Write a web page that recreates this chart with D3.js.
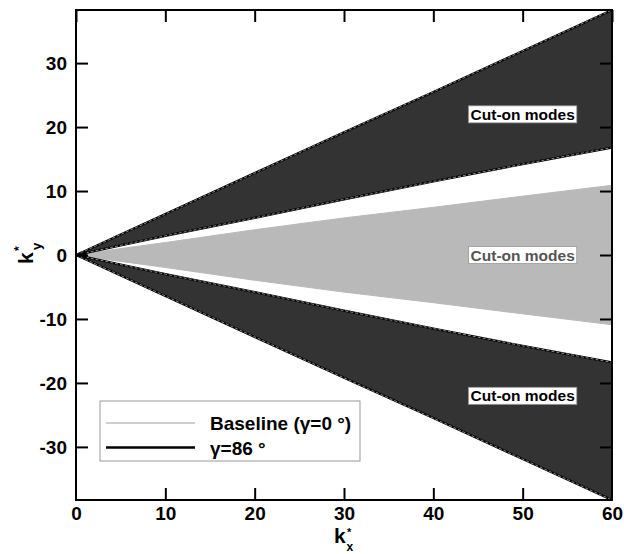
<!DOCTYPE html>
<html>
<head>
<meta charset="utf-8">
<script src="https://cdn.jsdelivr.net/npm/d3@7"></script>
<style>
  html, body { margin: 0; padding: 0; background: #fff; }
  svg { display: block; }
  text { font-family: "Liberation Sans", Arial, Helvetica, sans-serif; font-weight: bold; }
</style>
</head>
<body>
<svg id="chart" width="624" height="554"></svg>
<script>
// ---- data ----
const kx = [0, 1, 5, 10, 20, 30, 40, 50, 60];
const gammaOuter = [0, 0.64, 3.2, 6.4, 12.8, 19.2, 25.5, 31.9, 38.3];   // γ=86° outer boundary (ky>0)
const gammaInner = [0, 0.3, 1.5, 3.0, 5.8, 8.7, 11.5, 14.2, 16.8];      // γ=86° inner boundary (ky>0)
const baseline   = [0, 0.2, 1.0, 1.95, 3.95, 5.8, 7.45, 9.2, 10.9];     // baseline γ=0° boundary (ky>0)
const xTicks = [0, 10, 20, 30, 40, 50, 60];
const yTicks = [-30, -20, -10, 0, 10, 20, 30];
const labelText = "Cut-on modes";
const labelX = [50, 50, 50];
const labelY = [22, 0, -22];
const legendLabels = ["Baseline (\u03b3=0 \u00b0)", "\u03b3=86 \u00b0"];

// ---- layout ----
const svg = d3.select("#chart");
const L = 76, R = 612, T = 10, B = 500;
const x = d3.scaleLinear().domain([0, 60]).range([L, R]);
const y = d3.scaleLinear().domain([-38.3, 38.3]).range([B, T]);

const pts = (arr, sign) => kx.map((k, i) => [k, sign * arr[i]]);
const area = (a, b) => {
  const p = a.concat(b.slice().reverse());
  return d3.line().x(d => x(d[0])).y(d => y(d[1]))(p) + "Z";
};
const line = d3.line().x(d => x(d[0])).y(d => y(d[1]));

svg.append("defs").append("clipPath").attr("id", "clip")
  .append("rect").attr("x", L).attr("y", T).attr("width", R - L).attr("height", B - T);
const g = svg.append("g").attr("clip-path", "url(#clip)");

// baseline (gray) region
g.append("path").attr("d", area(pts(baseline, 1), pts(baseline, -1)))
  .attr("fill", "#b9b9b9").attr("stroke", "#b9b9b9").attr("stroke-width", 1);

// γ=86 regions (dark)
[1, -1].forEach(s => {
  g.append("path").attr("d", area(pts(gammaOuter, s), pts(gammaInner, s)))
    .attr("fill", "#333333");
  [gammaOuter, gammaInner].forEach(arr => {
    g.append("path").attr("d", line(pts(arr, s)))
      .attr("fill", "none").attr("stroke", "#000").attr("stroke-width", 2.2);
    g.append("path").attr("d", line(pts(arr, s)))
      .attr("fill", "none").attr("stroke", "#e8e8e8").attr("stroke-width", 0.6)
      .attr("stroke-dasharray", "3,2");
  });
});
// dark apex where the boundaries meet
g.append("path").attr("d", area([[0, 0], [1.2, 0.5]], [[0, 0], [1.2, -0.5]]))
  .attr("fill", "#000");

// labels
labelX.forEach((lx, i) => {
  const t = svg.append("text").attr("x", x(lx)).attr("y", y(labelY[i]))
    .attr("text-anchor", "middle").attr("dy", "0.36em")
    .attr("font-size", 15.5).attr("fill", i === 1 ? "#555" : "#000").text(labelText);
  const bb = t.node().getBBox();
  svg.insert("rect", () => t.node())
    .attr("x", bb.x - 2).attr("y", bb.y).attr("width", bb.width + 4).attr("height", bb.height)
    .attr("fill", "#fff").attr("stroke", "#999").attr("stroke-width", 0.8);
});

// axes frame
svg.append("rect").attr("x", L).attr("y", T).attr("width", R - L).attr("height", B - T)
  .attr("fill", "none").attr("stroke", "#000").attr("stroke-width", 2);

const fmt = d => String(d);  // plain hyphen-minus as in the reference
const axB = svg.append("g").attr("transform", `translate(0,${B})`)
  .call(d3.axisBottom(x).tickValues(xTicks).tickSize(-12).tickPadding(7).tickFormat(fmt));
const axT = svg.append("g").attr("transform", `translate(0,${T})`)
  .call(d3.axisTop(x).tickValues(xTicks).tickSize(-12).tickFormat(""));
const axL = svg.append("g").attr("transform", `translate(${L},0)`)
  .call(d3.axisLeft(y).tickValues(yTicks).tickSize(-12).tickPadding(9).tickFormat(fmt));
const axR = svg.append("g").attr("transform", `translate(${R},0)`)
  .call(d3.axisRight(y).tickValues(yTicks).tickSize(-12).tickFormat(""));
[axB, axT, axL, axR].forEach(a => {
  a.select(".domain").remove();
  a.selectAll(".tick line").attr("stroke", "#000").attr("stroke-width", 2);
  a.selectAll(".tick text").attr("font-size", 19).attr("font-family", "Liberation Sans, Arial, sans-serif")
    .attr("font-weight", "bold").attr("fill", "#000");
});
axB.selectAll(".tick text").attr("dy", "0.71em");
axL.selectAll(".tick text").attr("dy", "0.36em");
axB.selectAll(".tick").filter(d => d === 0 || d === 60).select("line").remove();

// axis titles (k with superscript * and subscript)
svg.append("text").attr("x", 334).attr("y", 543).attr("font-size", 21).text("k");
svg.append("text").attr("x", 347).attr("y", 536).attr("font-size", 11).text("*");
svg.append("text").attr("x", 346.5).attr("y", 551).attr("font-size", 12).text("x");

svg.append("text").attr("transform", "translate(33,264) rotate(-90)").attr("font-size", 21).text("k");
svg.append("text").attr("transform", "translate(23,251) rotate(-90)").attr("font-size", 12).text("*");
svg.append("text").attr("transform", "translate(41,250) rotate(-90)").attr("font-size", 13).text("y");

// legend
const lg = svg.append("g");
lg.append("rect").attr("x", 100).attr("y", 401).attr("width", 260).attr("height", 60)
  .attr("fill", "#fff").attr("stroke", "#999").attr("stroke-width", 1);
const legColors = ["#cfcfcf", "#000"];
const legY = [423, 447.5];
legendLabels.forEach((lab, i) => {
  lg.append("line").attr("x1", 106).attr("x2", 195).attr("y1", legY[i]).attr("y2", legY[i])
    .attr("stroke", legColors[i]).attr("stroke-width", i === 0 ? 2 : 2.5);
  lg.append("text").attr("x", 210).attr("y", legY[i] + 7).attr("font-size", 19).attr("fill", "#000").text(lab);
});
</script>
</body>
</html>
